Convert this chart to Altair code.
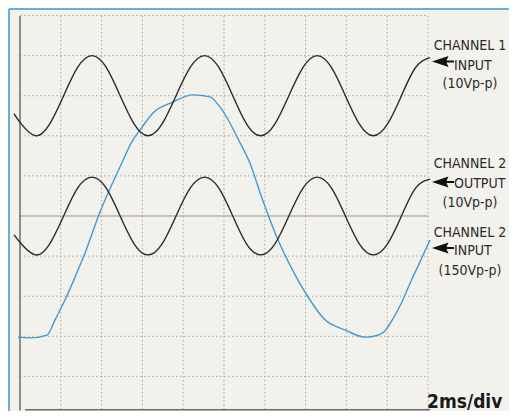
import altair as alt
import pandas as pd

# ---- data ----
# time in ms (2 ms/div), amplitude in screen divisions (0 = centre line)
sine_t = [-0.29, 0.07, 0.76, 1.45, 2.14, 2.83, 3.53, 4.22, 4.91, 5.60, 6.27,
          6.96, 7.65, 8.35, 9.05, 9.74, 10.43, 11.11, 11.80, 12.49, 13.18,
          13.88, 14.57, 15.26, 15.95, 16.64, 17.32, 18.01, 18.70, 19.40, 20.10]
ch1_in_v = [2.55, 2.29, 2.0, 2.29, 3.0, 3.71, 4.0, 3.71, 3.0, 2.29, 2.0,
            2.29, 3.0, 3.71, 4.0, 3.71, 3.0, 2.29, 2.0, 2.29, 3.0,
            3.71, 4.0, 3.71, 3.0, 2.29, 2.0, 2.29, 3.0, 3.71, 3.95]
ch2_out_v = [-0.47, -0.70, -0.97, -0.70, 0.0, 0.70, 0.97, 0.70, 0.0, -0.70, -0.97,
             -0.70, 0.0, 0.70, 0.97, 0.70, 0.0, -0.70, -0.97, -0.70, 0.0,
             0.70, 0.97, 0.70, 0.0, -0.70, -0.97, -0.70, 0.0, 0.70, 0.92]
ch2_in_t = [-0.10, 0.49, 1.32, 1.72, 2.21, 2.70, 3.19, 3.92, 4.90, 5.54, 5.88,
            6.52, 7.50, 8.48, 9.31, 9.80, 10.29, 10.64, 11.27, 11.86, 12.65,
            13.28, 14.12, 14.95, 15.93, 16.91, 17.50, 17.90, 18.30, 18.70, 19.17,
            19.60, 20.10]
ch2_in_v = [-3.02, -3.04, -2.97, -2.59, -2.09, -1.52, -0.92, 0.10, 1.22, 1.90, 2.14,
            2.57, 2.84, 3.02, 2.97, 2.72, 2.32, 1.97, 1.32, 0.45, -0.60,
            -1.27, -2.02, -2.59, -2.84, -3.02, -2.98, -2.86, -2.55, -2.17, -1.62,
            -1.15, -0.60]

grid_t = [2, 4, 6, 8, 10, 12, 14, 16, 18, 20]
grid_v = [-4, -3, -2, -1, 1, 2, 3, 4, 5]

label_ch1 = ["CHANNEL 1", "INPUT", "(10Vp-p)"]
label_ch2_out = ["CHANNEL 2", "OUTPUT", "(10Vp-p)"]
label_ch2_in = ["CHANNEL 2", "INPUT", "(150Vp-p)"]
timebase = "2ms/div"

# ---- styling ----
BG = "#f3f1eb"
GRID = "#a9a69e"
INK = "#2b2b2b"
BLUE = "#3f9bd3"
FRAME = "#6aaedf"
FONT = "'DejaVu Sans Condensed', Roboto, sans-serif"
W, H = 501, 403

xs = alt.Scale(domain=[-0.588, 23.971], nice=False, zero=False)
ys = alt.Scale(domain=[-4.863, 5.187], nice=False, zero=False)


def X(field="t"):
    return alt.X(f"{field}:Q", scale=xs, axis=None)


def Y(field="v"):
    return alt.Y(f"{field}:Q", scale=ys, axis=None)


one = pd.DataFrame({"k": [0]})

vgrid = alt.Chart(pd.DataFrame({"t": grid_t})).transform_calculate(
    top="4.99", bot="-5.0"
).mark_rule(color=GRID, strokeWidth=1, strokeDash=[1.5, 2.5]).encode(
    x=X(), y=Y("top"), y2="bot:Q")

hgrid = alt.Chart(pd.DataFrame({"v": grid_v})).transform_calculate(
    a="0", b="20"
).mark_rule(color=GRID, strokeWidth=1, strokeDash=[1.5, 2.5]).encode(
    y=Y(), x=X("a"), x2="b:Q")

centre = alt.Chart(one).transform_calculate(v="0", a="0", b="20").mark_rule(
    color="#9a978f", strokeWidth=1).encode(y=Y(), x=X("a"), x2="b:Q")

left_edge = alt.Chart(one).transform_calculate(t="0", a="4.99", b="-4.85").mark_rule(
    color="#6b6a66", strokeWidth=1.5).encode(x=X(), y=Y("a"), y2="b:Q")

bottom_edge = alt.Chart(one).transform_calculate(v="-4.83", a="0.25", b="20.1").mark_rule(
    color="#6b6a66", strokeWidth=1.5).encode(y=Y(), x=X("a"), x2="b:Q")

frame_top = alt.Chart(one).mark_rule(color=FRAME, strokeWidth=2).encode(
    y=alt.value(1), x=alt.value(1), x2=alt.value(W))
frame_left = alt.Chart(one).mark_rule(color=FRAME, strokeWidth=2).encode(
    x=alt.value(1), y=alt.value(1), y2=alt.value(H))

ch1 = alt.Chart(pd.DataFrame({"t": sine_t, "v": ch1_in_v})).mark_line(
    color=INK, strokeWidth=1.4, interpolate="natural").encode(x=X(), y=Y())
ch2o = alt.Chart(pd.DataFrame({"t": sine_t, "v": ch2_out_v})).mark_line(
    color=INK, strokeWidth=1.4, interpolate="natural").encode(x=X(), y=Y())
ch2i = alt.Chart(pd.DataFrame({"t": ch2_in_t, "v": ch2_in_v})).mark_line(
    color=BLUE, strokeWidth=1.4, interpolate="monotone").encode(x=X(), y=Y())

ARROW = "M-1,0L0.5,-0.5L0.32,-0.08L1,-0.08L1,0.08L0.32,0.08L0.5,0.5Z"


def arrow(py):
    return alt.Chart(one).mark_point(
        shape=ARROW, filled=True, color="#111111", size=484, opacity=1, strokeWidth=0.5
    ).encode(x=alt.value(435), y=alt.value(py))


def text(txt, x, y, align):
    return alt.Chart(one).mark_text(
        text=txt, font=FONT, fontSize=14, color=INK, align=align,
        baseline="alphabetic").encode(x=alt.value(x), y=alt.value(y))


def label(lines, baselines):
    return [text(lines[0], 462, baselines[0], "center"),
            text(lines[1], 446, baselines[1], "left"),
            text(lines[2], 462, baselines[2], "center")]


tb = alt.Chart(one).mark_text(
    text=timebase, font=FONT, fontSize=19, fontWeight="bold", color="#1a1a1a",
    align="left", baseline="alphabetic").encode(x=alt.value(419), y=alt.value(400))

layers = [vgrid, hgrid, centre, left_edge, bottom_edge, frame_top, frame_left,
          ch2i, ch1, ch2o, arrow(53.5), arrow(174), arrow(240), tb]
layers += label(label_ch1, [42, 62, 80])
layers += label(label_ch2_out, [160, 180, 199])
layers += label(label_ch2_in, [229, 247, 267])

chart = alt.layer(*layers).properties(
    width=W, height=H, background=BG, padding=0,
    autosize=alt.AutoSizeParams(type="none")
).configure_view(stroke=None)

chart.save("out.html", embed_options={"renderer": "svg", "actions": False})
